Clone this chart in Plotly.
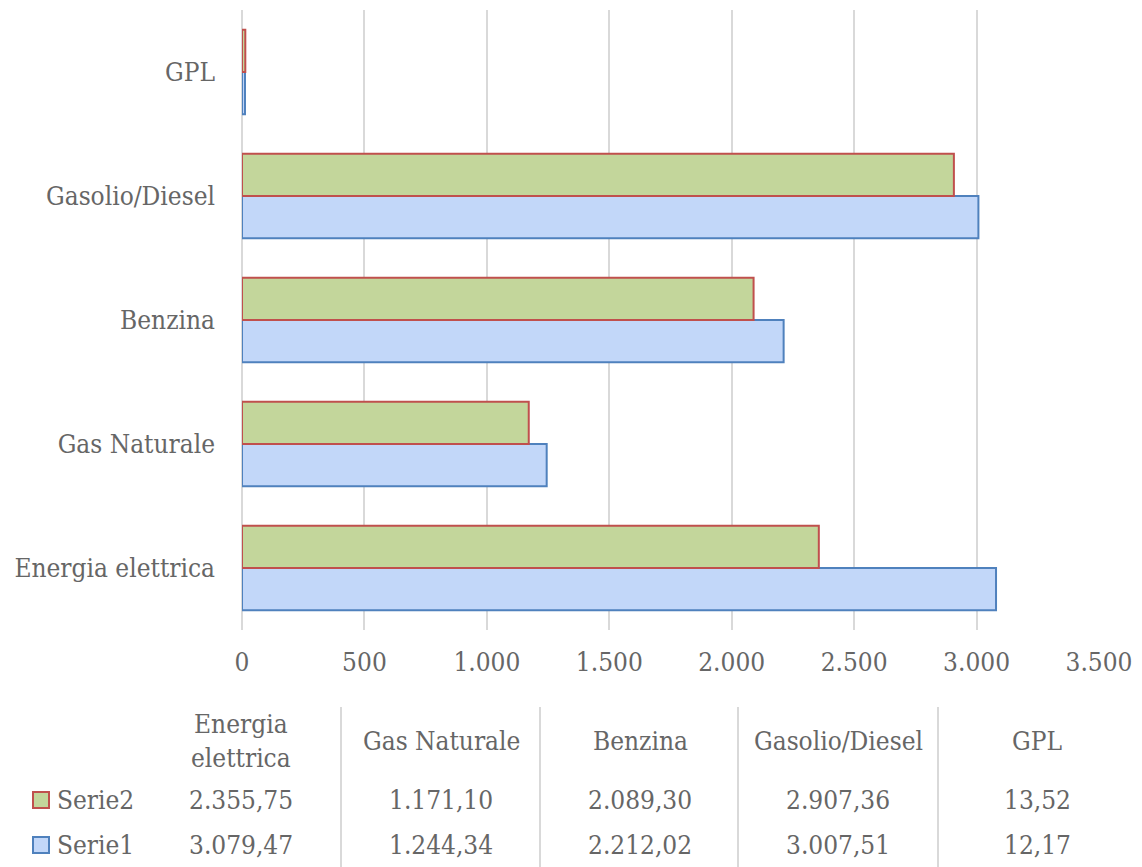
import plotly.graph_objects as go

categories = ["Energia elettrica", "Gas Naturale", "Benzina", "Gasolio/Diesel", "GPL"]
table_headers = ["Energia<br>elettrica", "Gas Naturale", "Benzina", "Gasolio/Diesel", "GPL"]
serie1 = [3079.47, 1244.34, 2212.02, 3007.51, 12.17]
serie2 = [2355.75, 1171.10, 2089.30, 2907.36, 13.52]
series_names = ["Serie1", "Serie2"]
x_ticks = [0, 500, 1000, 1500, 2000, 2500, 3000, 3500]

FONT = "DejaVu Serif Condensed, DejaVu Serif, serif"
FS = 26
TXT = "#666666"

def fmt_it(v, dec=2):
    s = f"{v:,.{dec}f}"
    return s.replace(",", "X").replace(".", ",").replace("X", ".")

fig = go.Figure()
fig.add_trace(go.Bar(y=categories, x=serie1, orientation="h", name=series_names[0],
                     marker=dict(color="#c2d7f9", line=dict(color="#4f81bd", width=2))))
fig.add_trace(go.Bar(y=categories, x=serie2, orientation="h", name=series_names[1],
                     marker=dict(color="#c3d69b", line=dict(color="#c0504d", width=2))))

W, H = 1142, 867
x0, x1 = 242 / W, 1099 / W
fig.update_layout(
    width=W, height=H, margin=dict(l=0, r=0, t=0, b=0, autoexpand=False),
    paper_bgcolor="white", plot_bgcolor="white",
    barmode="group", bargap=0.32, bargroupgap=0,
    showlegend=False, separators=",.",
    font=dict(family=FONT, size=FS, color=TXT),
    xaxis=dict(domain=[x0, x1], range=[0, 3500], tickvals=x_ticks, tickformat=",d",
               automargin=False,
               showgrid=True, gridcolor="#d9d9d9", gridwidth=2, zeroline=True,
               zerolinecolor="#d9d9d9", zerolinewidth=2, showline=False, ticks="",
               tickfont=dict(family=FONT, size=FS, color=TXT), ticklabelstandoff=14),
    yaxis=dict(domain=[(H - 630) / H, (H - 10) / H], type="category",
               automargin=False,
               categoryorder="array", categoryarray=categories,
               showgrid=False, ticks="", showline=False,
               tickfont=dict(family=FONT, size=FS, color=TXT), ticklabelstandoff=26),
)

# data table below chart
col_centers = [241, 441, 640, 838, 1037]
row_y = {"header": 741, "Serie2": 800, "Serie1": 845}
for i, cx in enumerate(col_centers):
    fig.add_annotation(x=cx / W, y=(H - row_y["header"]) / H, xref="paper", yref="paper",
                       text=table_headers[i], showarrow=False,
                       font=dict(family=FONT, size=FS, color=TXT),
                       xanchor="center", yanchor="middle")
    fig.add_annotation(x=cx / W, y=(H - row_y["Serie2"]) / H, xref="paper", yref="paper",
                       text=fmt_it(serie2[i]), showarrow=False,
                       font=dict(family=FONT, size=FS, color=TXT),
                       xanchor="center", yanchor="middle")
    fig.add_annotation(x=cx / W, y=(H - row_y["Serie1"]) / H, xref="paper", yref="paper",
                       text=fmt_it(serie1[i]), showarrow=False,
                       font=dict(family=FONT, size=FS, color=TXT),
                       xanchor="center", yanchor="middle")

for sx in [341, 540, 738, 938]:
    fig.add_shape(type="line", xref="paper", yref="paper", x0=sx / W, x1=sx / W,
                  y0=0, y1=(H - 707) / H, line=dict(color="#d9d9d9", width=2))

# legend keys in table
for name, fill, edge in [("Serie2", "#c3d69b", "#c0504d"), ("Serie1", "#c2d7f9", "#4f81bd")]:
    cy = row_y[name]
    fig.add_shape(type="rect", xref="paper", yref="paper", x0=33 / W, x1=49 / W,
                  y0=(H - cy - 8) / H, y1=(H - cy + 8) / H,
                  fillcolor=fill, line=dict(color=edge, width=2))
    fig.add_annotation(x=55 / W, y=(H - cy) / H, xref="paper", yref="paper", text=name,
                       showarrow=False, xanchor="left", yanchor="middle",
                       font=dict(family=FONT, size=FS, color=TXT))

fig.write_html("out.html", config={"displayModeBar": False},
               post_script="document.body.style.margin='0px';")
